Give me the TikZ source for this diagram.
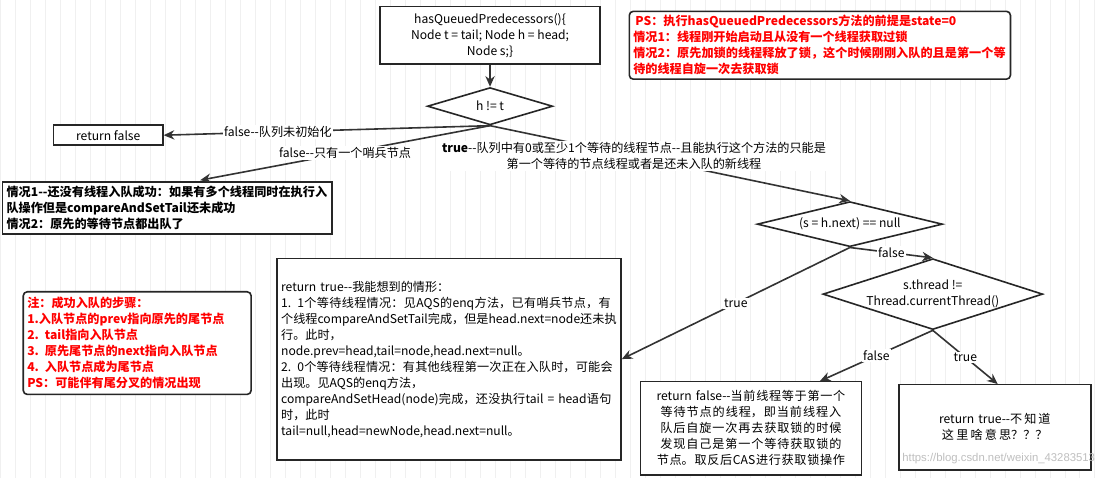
\documentclass[tikz,border=0pt]{standalone}
\usepackage{fontspec}
\setmainfont{Liberation Sans}
\newfontfamily\cjk{Noto Sans CJK SC}
\XeTeXlinebreaklocale "zh"
\XeTeXlinebreakskip=0pt plus 1pt
\usetikzlibrary{shapes.geometric,arrows.meta}
\begin{document}
\begin{tikzpicture}[x=0.75pt,y=-0.75pt,font=\cjk\fontsize{9.1}{12}\selectfont,
 box/.style={draw=black!85,line width=1.2pt,fill=white,inner sep=3pt},
 redbox/.style={draw=black!85,line width=1.2pt,rounded corners=3pt,fill=white,text=red,font=\cjk\bfseries\fontsize{9.1}{12}\selectfont,align=left,inner sep=3pt},
 dia/.style={diamond,draw=black!85,line width=1.2pt,fill=white,aspect=3.1,inner sep=0pt},
 arr/.style={draw=black!80,line width=1.2pt,-{Stealth[length=8pt,width=7pt]}},
 lab/.style={fill=white,inner sep=1pt}]
\fill[white] (0,0) rectangle (1105,478);
\draw[black!6] (0,0) grid[step=15] (1105,478);
\useasboundingbox (0,0) rectangle (1105,478);
\node[box,minimum width=165pt,minimum height=43pt,align=center] (top) at (490,35) {hasQueuedPredecessors()\{\\Node t = tail; Node h = head;\\Node s;\}};
\node[dia,minimum width=94pt,minimum height=28pt] (d1) at (490,106) {h != t};
\node[box,minimum width=82pt,minimum height=15pt,inner sep=1pt] (rf) at (108,135) {return false};
\node[redbox,text width=280pt,minimum height=48pt] (ps) at (820,45) {\,PS：执行hasQueuedPredecessors方法的前提是state=0\\情况1：线程刚开始启动且从没有一个线程获取过锁\\情况2：原先加锁的线程释放了锁，这个时候刚刚入队的且是第一个等待的线程自旋一次去获取锁};
\node[box,text width=241pt,align=left,font=\cjk\bfseries\fontsize{9.1}{12}\selectfont] (c) at (167,208) {情况1--还没有线程入队成功：如果有多个线程同时在执行入队操作但是compareAndSetTail还未成功\\情况2：原先的等待节点都出队了};
\node[dia,minimum width=139pt,minimum height=30pt] (d2) at (850,224) {(s = h.next) == null};
\node[dia,minimum width=139pt,minimum height=39pt,align=center] (d3) at (933,294) {s.thread !=\\Thread.currentThread()};
\node[box,text width=252pt,minimum height=151pt,align=left] (rt) at (449,359) {return true--我能想到的情形：\\1. 1个等待线程情况：见AQS的enq方法，已有哨兵节点，有个线程compareAndSetTail完成，但是head.next=node还未执行。此时，\\node.prev=head,tail=node,head.next=null。\\2. 0个等待线程情况：有其他线程第一次正在入队时，可能会出现。见AQS的enq方法，\\compareAndSetHead(node)完成，还没执行tail = head语句时，此时\\tail=null,head=newNode,head.next=null。};
\node[redbox,text width=165pt,minimum height=77pt] (note) at (137,343) {注：成功入队的步骤：\\1.入队节点的prev指向原先的尾节点\\2. tail指向入队节点\\3. 原先尾节点的next指向入队节点\\4. 入队节点成为尾节点\\PS：可能伴有尾分叉的情况出现};
\node[box,text width=160pt,minimum height=70pt,align=center] (rf2) at (751,428) {return false--当前线程等于第一个等待节点的线程，即当前线程入队后自旋一次再去获取锁的时候发现自己是第一个等待获取锁的节点。取反后CAS进行获取锁操作};
\node[box,text width=138pt,minimum height=64pt,align=center] (rt2) at (995,427) {return true--不知道这里啥意思？？？};
\node[text=black!25,anchor=east,font=\fontsize{8.5}{10}\selectfont] at (1100,459) {https://blog.csdn.net/weixin\_43283513};
\draw[arr] (top) -- (d1);
\draw[arr] (d1.south) -- node[lab,pos=0.65]{false--队列未初始化} (rf.east);
\draw[arr] (d1.south) -- node[lab,pos=0.5]{false--只有一个哨兵节点} (200,180);
\draw[arr] (d1.south) -- node[lab,pos=0.4,align=center]{\textbf{true}--队列中有0或至少1个等待的线程节点--且能执行这个方法的只能是\\第一个等待的节点线程或者是还未入队的新线程} (d2.north);
\draw[arr] (d2.south) -- node[lab]{true} (rt.east);
\draw[arr] (d2.south) -- node[lab]{false} (d3.north);
\draw[arr] (d3.south) -- node[lab]{false} (820,381);
\draw[arr] (d3.south) -- node[lab]{true} (998,384);
\end{tikzpicture}
\end{document}
